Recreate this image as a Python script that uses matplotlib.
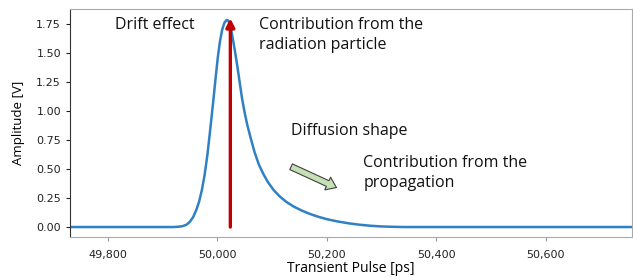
import matplotlib
matplotlib.use("Agg")
import matplotlib.pyplot as plt
from matplotlib.ticker import FuncFormatter

# pulse: time [ps] and amplitude [V]
time_ps = [49730, 49920, 49930, 49937, 49944, 49950, 49956, 49962, 49967, 49972,
           49977, 49982, 49987, 49992, 49997, 50001, 50005, 50009, 50013, 50017,
           50020, 50023, 50026, 50029, 50033, 50037, 50041, 50045, 50050, 50055,
           50061, 50068, 50076, 50084, 50093, 50103, 50114, 50126, 50140, 50155,
           50170, 50185, 50200, 50220, 50240, 50260, 50280, 50300, 50320, 50340,
           50760]
amplitude = [0.0, 0.0, 0.003, 0.008, 0.02, 0.045, 0.085, 0.15, 0.22, 0.32,
             0.45, 0.62, 0.83, 1.05, 1.28, 1.46, 1.60, 1.70, 1.76, 1.785,
             1.78, 1.75, 1.69, 1.61, 1.50, 1.38, 1.25, 1.12, 0.99, 0.88,
             0.77, 0.65, 0.54, 0.46, 0.385, 0.32, 0.265, 0.218, 0.176, 0.141,
             0.112, 0.088, 0.068, 0.048, 0.032, 0.02, 0.011, 0.005, 0.002, 0.0,
             0.0]

x_ticks = [49800, 50000, 50200, 50400, 50600]
y_ticks = [0.0, 0.25, 0.5, 0.75, 1.0, 1.25, 1.5, 1.75]

drift_x = 50024
drift_top = 1.80

fig = plt.figure(figsize=(6.33, 2.77), dpi=100)
ax = fig.add_axes([0.1106, 0.1444, 0.8878, 0.8231])

ax.plot(time_ps, amplitude, color='#2f80c4', lw=1.8)
ax.set_xlim(49731, 50758)
ax.set_ylim(-0.086, 1.88)
ax.set_xticks(x_ticks)
ax.set_yticks(y_ticks)
ax.xaxis.set_major_formatter(FuncFormatter(lambda v, p: '{:,.0f}'.format(v)))
ax.yaxis.set_major_formatter(FuncFormatter(lambda v, p: '{:.2f}'.format(v)))
ax.tick_params(labelsize=8, colors='#222222', length=3, width=0.8)
ax.tick_params(axis='x', colors='#999999', labelcolor='#222222', pad=6)

for side in ['top', 'bottom', 'right']:
    ax.spines[side].set_color('#aaaaaa')
ax.spines['left'].set_color('#333333')

ax.set_xlabel('Transient Pulse [ps]', fontsize=10, family='Open Sans', labelpad=1)
ax.set_ylabel('Amplitude [V]', fontsize=9.5, family='Open Sans', labelpad=8)

# red arrow for the drift contribution
ax.annotate('', xy=(drift_x, drift_top), xytext=(drift_x, 0.0),
            arrowprops=dict(arrowstyle='-|>,head_length=0.5,head_width=0.25',
                            color='#c00000', lw=2.4, shrinkA=0, shrinkB=0))

# green block arrow for the propagation contribution
ax.annotate('', xy=(50218, 0.34), xytext=(50135, 0.52),
            arrowprops=dict(arrowstyle='simple,head_length=0.7,head_width=1.0,tail_width=0.45',
                            fc='#c5e0b4', ec='#404040', lw=0.8, shrinkA=0, shrinkB=0))

txt = dict(fontsize=11.5, family='Open Sans', color='#111111')
ax.text(49813, 1.74, 'Drift effect', va='center', ha='left', **txt)
ax.text(50076, 1.81, 'Contribution from the\nradiation particle', va='top', ha='left',
        linespacing=1.3, **txt)
ax.text(50135, 0.83, 'Diffusion shape', va='center', ha='left', **txt)
ax.text(50267, 0.62, 'Contribution from the\npropagation', va='top', ha='left',
        linespacing=1.3, **txt)

plt.savefig('out.png', dpi=100)
